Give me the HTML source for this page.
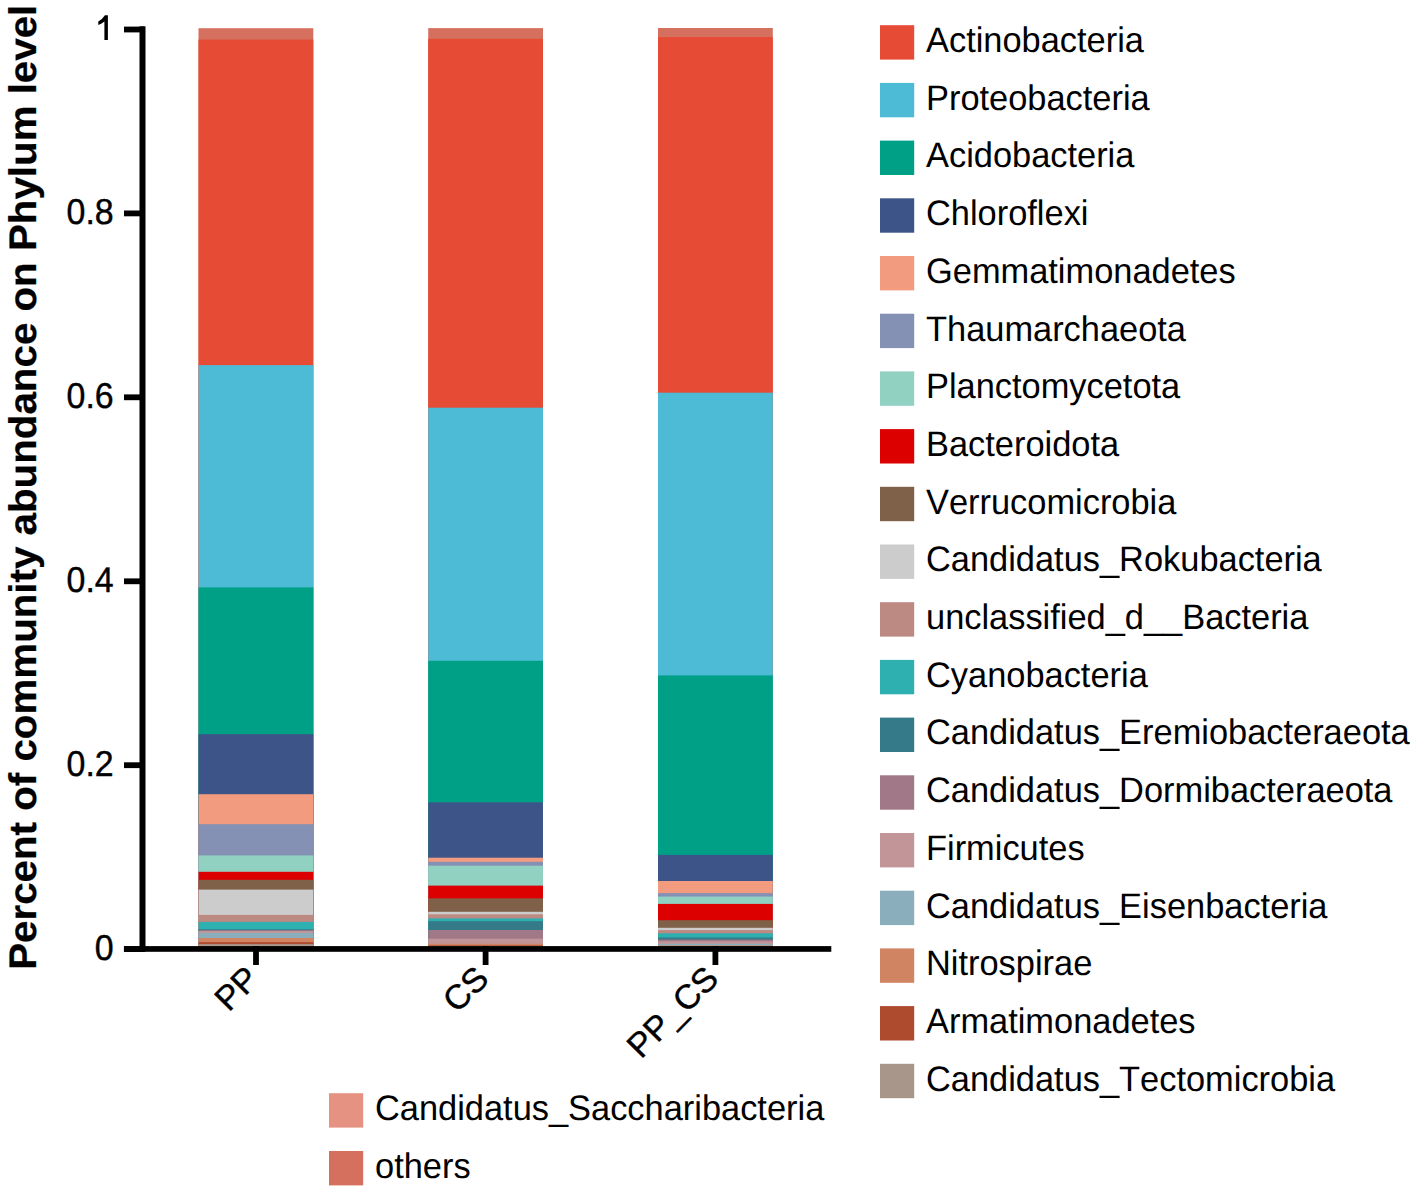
<!DOCTYPE html>
<html><head><meta charset="utf-8"><style>
html,body{margin:0;padding:0;background:#fff;width:1418px;height:1193px;overflow:hidden}
svg{display:block}
text{font-family:"Liberation Sans",sans-serif;fill:#000;stroke:#000;stroke-width:0.4px;font-kerning:none;text-rendering:geometricPrecision}
.leg text{font-size:34.4px;stroke-width:0px}
.tk text{font-size:34.6px}
.tk text.xl{font-size:34.2px}
.title{font-size:40.3px;font-weight:bold;stroke-width:0.25px}
</style></head><body>
<svg width="1418" height="1193" viewBox="0 0 1418 1193">
<g><rect x="198.5" y="28.2" width="114.8" height="920.9" fill="#D6705E"/><rect x="198.5" y="39.6" width="114.8" height="909.5" fill="#E64B35"/><rect x="198.5" y="365.1" width="114.8" height="584.0" fill="#4DBBD5"/><rect x="198.5" y="587.4" width="114.8" height="361.7" fill="#00A087"/><rect x="198.5" y="734.2" width="114.8" height="214.9" fill="#3C5488"/><rect x="198.5" y="794.2" width="114.8" height="154.9" fill="#F39B7F"/><rect x="198.5" y="824.2" width="114.8" height="124.9" fill="#8491B4"/><rect x="198.5" y="855.4" width="114.8" height="93.7" fill="#91D1C2"/><rect x="198.5" y="871.8" width="114.8" height="77.3" fill="#DC0000"/><rect x="198.5" y="879.8" width="114.8" height="69.3" fill="#7E6148"/><rect x="198.5" y="889.6" width="114.8" height="59.5" fill="#CCCCCC"/><rect x="198.5" y="914.9" width="114.8" height="34.2" fill="#BC8A82"/><rect x="198.5" y="921.9" width="114.8" height="27.2" fill="#2EAFB0"/><rect x="198.5" y="929.3" width="114.8" height="19.8" fill="#347A88"/><rect x="198.5" y="930.2" width="114.8" height="18.9" fill="#A07888"/><rect x="198.5" y="931.0" width="114.8" height="18.1" fill="#C29599"/><rect x="198.5" y="932.9" width="114.8" height="16.2" fill="#8AAEBB"/><rect x="198.5" y="938.0" width="114.8" height="11.1" fill="#D08462"/><rect x="198.5" y="942.2" width="114.8" height="6.9" fill="#AE4A2E"/><rect x="198.5" y="944.1" width="114.8" height="5.0" fill="#A8968A"/><rect x="198.5" y="946.7" width="114.8" height="2.4" fill="#E69282"/><rect x="428.2" y="28.1" width="114.8" height="921.0" fill="#D6705E"/><rect x="428.2" y="38.8" width="114.8" height="910.3" fill="#E64B35"/><rect x="428.2" y="407.7" width="114.8" height="541.4" fill="#4DBBD5"/><rect x="428.2" y="660.8" width="114.8" height="288.3" fill="#00A087"/><rect x="428.2" y="802.3" width="114.8" height="146.8" fill="#3C5488"/><rect x="428.2" y="857.7" width="114.8" height="91.4" fill="#F39B7F"/><rect x="428.2" y="861.8" width="114.8" height="87.3" fill="#8491B4"/><rect x="428.2" y="865.7" width="114.8" height="83.4" fill="#91D1C2"/><rect x="428.2" y="885.6" width="114.8" height="63.5" fill="#DC0000"/><rect x="428.2" y="898.4" width="114.8" height="50.7" fill="#7E6148"/><rect x="428.2" y="911.8" width="114.8" height="37.3" fill="#CCCCCC"/><rect x="428.2" y="914.3" width="114.8" height="34.8" fill="#BC8A82"/><rect x="428.2" y="918.4" width="114.8" height="30.7" fill="#2EAFB0"/><rect x="428.2" y="921.2" width="114.8" height="27.9" fill="#347A88"/><rect x="428.2" y="930.0" width="114.8" height="19.1" fill="#A07888"/><rect x="428.2" y="938.7" width="114.8" height="10.4" fill="#C29599"/><rect x="428.2" y="943.8" width="114.8" height="5.3" fill="#D08462"/><rect x="428.2" y="945.4" width="114.8" height="3.7" fill="#AE4A2E"/><rect x="428.2" y="946.0" width="114.8" height="3.1" fill="#A8968A"/><rect x="428.2" y="946.6" width="114.8" height="2.5" fill="#E69282"/><rect x="658.0" y="28.0" width="114.8" height="921.1" fill="#D6705E"/><rect x="658.0" y="37.1" width="114.8" height="912.0" fill="#E64B35"/><rect x="658.0" y="392.7" width="114.8" height="556.4" fill="#4DBBD5"/><rect x="658.0" y="675.4" width="114.8" height="273.7" fill="#00A087"/><rect x="658.0" y="854.9" width="114.8" height="94.2" fill="#3C5488"/><rect x="658.0" y="881.0" width="114.8" height="68.1" fill="#F39B7F"/><rect x="658.0" y="893.1" width="114.8" height="56.0" fill="#8491B4"/><rect x="658.0" y="896.6" width="114.8" height="52.5" fill="#91D1C2"/><rect x="658.0" y="903.9" width="114.8" height="45.2" fill="#DC0000"/><rect x="658.0" y="920.2" width="114.8" height="28.9" fill="#7E6148"/><rect x="658.0" y="927.8" width="114.8" height="21.3" fill="#CCCCCC"/><rect x="658.0" y="930.1" width="114.8" height="19.0" fill="#BC8A82"/><rect x="658.0" y="933.3" width="114.8" height="15.8" fill="#2EAFB0"/><rect x="658.0" y="937.5" width="114.8" height="11.6" fill="#347A88"/><rect x="658.0" y="939.6" width="114.8" height="9.5" fill="#A07888"/><rect x="658.0" y="941.3" width="114.8" height="7.8" fill="#C29599"/><rect x="658.0" y="943.8" width="114.8" height="5.3" fill="#8AAEBB"/><rect x="658.0" y="945.5" width="114.8" height="3.6" fill="#D08462"/><rect x="658.0" y="946.0" width="114.8" height="3.1" fill="#AE4A2E"/><rect x="658.0" y="946.3" width="114.8" height="2.8" fill="#A8968A"/><rect x="658.0" y="946.6" width="114.8" height="2.5" fill="#E69282"/></g>
<rect x="139.5" y="26.3" width="6.0" height="925.5" fill="#000"/>
<rect x="123.9" y="946.1" width="707.4" height="5.7" fill="#000"/>
<g class="tk"><rect x="124" y="946.2" width="20" height="5.8" fill="#000"/><text transform="translate(113.7,959.5) scale(0.98,1.035)" text-anchor="end">0</text><rect x="124" y="762.3" width="20" height="5.8" fill="#000"/><text transform="translate(113.7,775.6) scale(0.98,1.035)" text-anchor="end">0.2</text><rect x="124" y="578.4" width="20" height="5.8" fill="#000"/><text transform="translate(113.7,591.7) scale(0.98,1.035)" text-anchor="end">0.4</text><rect x="124" y="394.4" width="20" height="5.8" fill="#000"/><text transform="translate(113.7,407.7) scale(0.98,1.035)" text-anchor="end">0.6</text><rect x="124" y="210.5" width="20" height="5.8" fill="#000"/><text transform="translate(113.7,223.8) scale(0.98,1.035)" text-anchor="end">0.8</text><rect x="124" y="26.6" width="20" height="5.8" fill="#000"/><path d="M107.9,15.3 L107.9,40.1 L104.4,40.1 L104.4,21.6 Q101.9,23.7 98.3,24.9 L98.3,21.5 Q102.4,19.4 104.9,15.3 Z" fill="#000"/><rect x="253.1" y="946" width="5.8" height="19" fill="#000"/><text class="xl" transform="translate(261.0,980.5) rotate(-45)" text-anchor="end">PP</text><rect x="482.7" y="946" width="5.8" height="19" fill="#000"/><text class="xl" transform="translate(490.6,980.5) rotate(-45)" text-anchor="end">CS</text><rect x="712.5" y="946" width="5.8" height="19" fill="#000"/><text class="xl" transform="translate(720.4,980.5) rotate(-45)" text-anchor="end">PP_CS</text></g>
<g class="leg"><rect x="880" y="25.2" width="34.2" height="34.4" fill="#E64B35"/><text transform="translate(926,52.0) scale(1,1.03)">Actinobacteria</text><rect x="880" y="82.9" width="34.2" height="34.4" fill="#4DBBD5"/><text transform="translate(926,109.7) scale(1,1.03)">Proteobacteria</text><rect x="880" y="140.6" width="34.2" height="34.4" fill="#00A087"/><text transform="translate(926,167.4) scale(1,1.03)">Acidobacteria</text><rect x="880" y="198.3" width="34.2" height="34.4" fill="#3C5488"/><text transform="translate(926,225.1) scale(1,1.03)">Chloroflexi</text><rect x="880" y="256.0" width="34.2" height="34.4" fill="#F39B7F"/><text transform="translate(926,282.8) scale(1,1.03)">Gemmatimonadetes</text><rect x="880" y="313.7" width="34.2" height="34.4" fill="#8491B4"/><text transform="translate(926,340.5) scale(1,1.03)">Thaumarchaeota</text><rect x="880" y="371.4" width="34.2" height="34.4" fill="#91D1C2"/><text transform="translate(926,398.2) scale(1,1.03)">Planctomycetota</text><rect x="880" y="429.1" width="34.2" height="34.4" fill="#DC0000"/><text transform="translate(926,455.9) scale(1,1.03)">Bacteroidota</text><rect x="880" y="486.8" width="34.2" height="34.4" fill="#7E6148"/><text transform="translate(926,513.6) scale(1,1.03)">Verrucomicrobia</text><rect x="880" y="544.5" width="34.2" height="34.4" fill="#CCCCCC"/><text transform="translate(926,571.3) scale(1,1.03)">Candidatus_Rokubacteria</text><rect x="880" y="602.2" width="34.2" height="34.4" fill="#BC8A82"/><text transform="translate(926,629.0) scale(1,1.03)">unclassified_d__Bacteria</text><rect x="880" y="659.9" width="34.2" height="34.4" fill="#2EAFB0"/><text transform="translate(926,686.7) scale(1,1.03)">Cyanobacteria</text><rect x="880" y="717.6" width="34.2" height="34.4" fill="#347A88"/><text transform="translate(926,744.4) scale(1,1.03)">Candidatus_Eremiobacteraeota</text><rect x="880" y="775.3" width="34.2" height="34.4" fill="#A07888"/><text transform="translate(926,802.1) scale(1,1.03)">Candidatus_Dormibacteraeota</text><rect x="880" y="833.0" width="34.2" height="34.4" fill="#C29599"/><text transform="translate(926,859.8) scale(1,1.03)">Firmicutes</text><rect x="880" y="890.7" width="34.2" height="34.4" fill="#8AAEBB"/><text transform="translate(926,917.5) scale(1,1.03)">Candidatus_Eisenbacteria</text><rect x="880" y="948.4" width="34.2" height="34.4" fill="#D08462"/><text transform="translate(926,975.2) scale(1,1.03)">Nitrospirae</text><rect x="880" y="1006.1" width="34.2" height="34.4" fill="#AE4A2E"/><text transform="translate(926,1032.9) scale(1,1.03)">Armatimonadetes</text><rect x="880" y="1063.8" width="34.2" height="34.4" fill="#A8968A"/><text transform="translate(926,1090.6) scale(1,1.03)">Candidatus_Tectomicrobia</text><rect x="329" y="1093.2" width="34.2" height="34.4" fill="#E69282"/><text transform="translate(375,1120.0) scale(1,1.03)">Candidatus_Saccharibacteria</text><rect x="329" y="1151.0" width="34.2" height="34.4" fill="#D6705E"/><text transform="translate(375,1177.8) scale(1,1.03)">others</text></g>
<text class="title" transform="translate(36.3,969.8) rotate(-90) scale(1,0.955)">Percent of community abundance on Phylum level</text>
</svg>
</body></html>
